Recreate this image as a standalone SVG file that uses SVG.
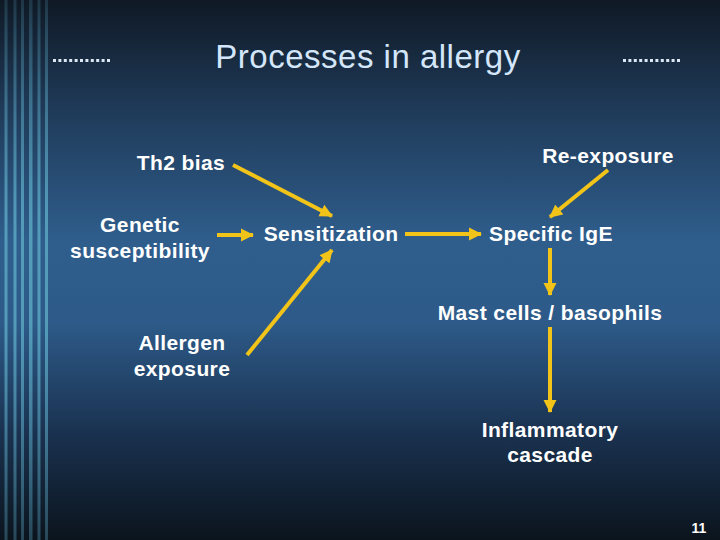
<svg xmlns="http://www.w3.org/2000/svg" width="720" height="540" viewBox="0 0 720 540">
<defs>
<linearGradient id="bg" x1="0" y1="0" x2="0" y2="1">
<stop offset="0" stop-color="#0f1925"/>
<stop offset="0.2" stop-color="#1f3a58"/>
<stop offset="0.45" stop-color="#2f5e8d"/>
<stop offset="0.6" stop-color="#2d5a88"/>
<stop offset="0.8" stop-color="#1a3250"/>
<stop offset="1" stop-color="#0b141d"/>
</linearGradient>
<linearGradient id="st" x1="0" y1="0" x2="0" y2="1">
<stop offset="0" stop-color="#5aa6c2" stop-opacity="0.2"/>
<stop offset="0.4" stop-color="#5aa6c2" stop-opacity="0.85"/>
<stop offset="0.6" stop-color="#5aa6c2" stop-opacity="0.85"/>
<stop offset="1" stop-color="#5aa6c2" stop-opacity="0.35"/>
</linearGradient>
<marker id="ah" markerUnits="userSpaceOnUse" markerWidth="14" markerHeight="14" viewBox="0 0 14 14" refX="12" refY="7" orient="auto">
<path d="M0,0.5 L13,7 L0,13.5 Z" fill="#f2c419"/>
</marker>
<style>
.t{font-family:"Liberation Sans",Arial,sans-serif;font-weight:bold;font-size:21px;fill:#ffffff;text-anchor:middle;letter-spacing:0.4px}
.c{stroke:#f2c419;stroke-width:4;fill:none;marker-end:url(#ah)}
.d{stroke:#dce8f6;stroke-width:3;stroke-dasharray:3 2.4}
</style>
</defs>
<rect width="720" height="540" fill="url(#bg)"/>
<g id="stripes" fill="url(#st)">
<rect x="4.5" y="0" width="3" height="540"/>
<rect x="13.5" y="0" width="3" height="540"/>
<rect x="21" y="0" width="3" height="540"/>
<rect x="29" y="0" width="3.5" height="540"/>
<rect x="37.5" y="0" width="3" height="540"/>
<rect x="45" y="0" width="3" height="540"/>
</g>
<g id="title">
<line class="d" x1="53" y1="60.5" x2="111" y2="60.5"/>
<line class="d" x1="623" y1="60.5" x2="681" y2="60.5"/>
<text x="368" y="68" style="font-family:'Liberation Sans',Arial,sans-serif;font-size:33px;letter-spacing:0.5px;fill:#d4e6fa;text-anchor:middle">Processes in allergy</text>
</g>
<g id="connectors">
<line class="c" x1="233" y1="165" x2="332" y2="216"/>
<line class="c" x1="217" y1="235" x2="253" y2="235"/>
<line class="c" x1="247" y1="355" x2="332" y2="250"/>
<line class="c" x1="405" y1="234" x2="481" y2="234"/>
<line class="c" x1="608" y1="170" x2="550" y2="217"/>
<line class="c" x1="550" y1="248" x2="550" y2="295"/>
<line class="c" x1="550" y1="327" x2="550" y2="412"/>
</g>
<g id="th2"><text class="t" x="181" y="170">Th2 bias</text></g>
<g id="genetic"><text class="t" x="140" y="232">Genetic</text><text class="t" x="140" y="258">susceptibility</text></g>
<g id="allergen"><text class="t" x="182" y="350">Allergen</text><text class="t" x="182" y="376">exposure</text></g>
<g id="sensitization"><text class="t" x="331" y="241">Sensitization</text></g>
<g id="reexposure"><text class="t" x="608" y="163">Re-exposure</text></g>
<g id="ige"><text class="t" x="551" y="241">Specific IgE</text></g>
<g id="mast"><text class="t" x="550" y="320">Mast cells / basophils</text></g>
<g id="inflammatory"><text class="t" x="550" y="437">Inflammatory</text><text class="t" x="550" y="462">cascade</text></g>
<text x="699" y="533" style="font-family:'Liberation Sans',Arial,sans-serif;font-weight:bold;font-size:14px;fill:#ffffff;text-anchor:middle">11</text>
</svg>
